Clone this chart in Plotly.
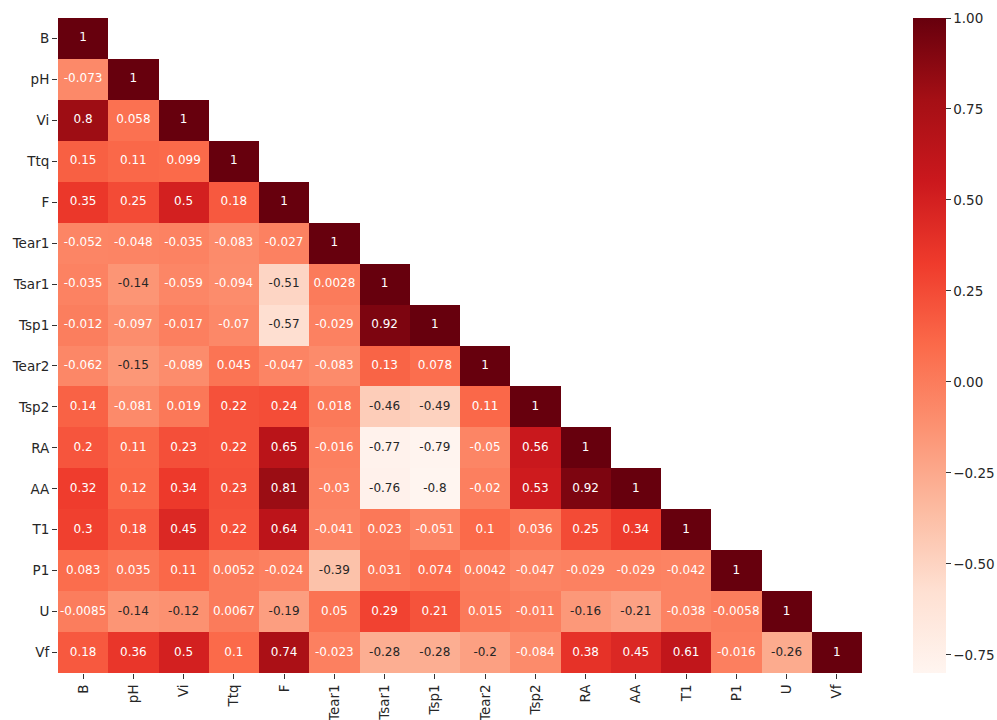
import numpy as np
import plotly.graph_objects as go

# Variable names (rows top-to-bottom, columns left-to-right)
variables = ["B", "pH", "Vi", "Ttq", "F", "Tear1", "Tsar1", "Tsp1",
             "Tear2", "Tsp2", "RA", "AA", "T1", "P1", "U", "Vf"]

# Lower-triangle correlation coefficients, one list per row
row_B = [1]
row_pH = [-0.073, 1]
row_Vi = [0.8, 0.058, 1]
row_Ttq = [0.15, 0.11, 0.099, 1]
row_F = [0.35, 0.25, 0.5, 0.18, 1]
row_Tear1 = [-0.052, -0.048, -0.035, -0.083, -0.027, 1]
row_Tsar1 = [-0.035, -0.14, -0.059, -0.094, -0.51, 0.0028, 1]
row_Tsp1 = [-0.012, -0.097, -0.017, -0.07, -0.57, -0.029, 0.92, 1]
row_Tear2 = [-0.062, -0.15, -0.089, 0.045, -0.047, -0.083, 0.13, 0.078, 1]
row_Tsp2 = [0.14, -0.081, 0.019, 0.22, 0.24, 0.018, -0.46, -0.49, 0.11, 1]
row_RA = [0.2, 0.11, 0.23, 0.22, 0.65, -0.016, -0.77, -0.79, -0.05, 0.56, 1]
row_AA = [0.32, 0.12, 0.34, 0.23, 0.81, -0.03, -0.76, -0.8, -0.02, 0.53, 0.92, 1]
row_T1 = [0.3, 0.18, 0.45, 0.22, 0.64, -0.041, 0.023, -0.051, 0.1, 0.036, 0.25, 0.34, 1]
row_P1 = [0.083, 0.035, 0.11, 0.0052, -0.024, -0.39, 0.031, 0.074, 0.0042,
          -0.047, -0.029, -0.029, -0.042, 1]
row_U = [-0.0085, -0.14, -0.12, 0.0067, -0.19, 0.05, 0.29, 0.21, 0.015,
         -0.011, -0.16, -0.21, -0.038, -0.0058, 1]
row_Vf = [0.18, 0.36, 0.5, 0.1, 0.74, -0.023, -0.28, -0.28, -0.2, -0.084,
          0.38, 0.45, 0.61, -0.016, -0.26, 1]

rows = [row_B, row_pH, row_Vi, row_Ttq, row_F, row_Tear1, row_Tsar1, row_Tsp1,
        row_Tear2, row_Tsp2, row_RA, row_AA, row_T1, row_P1, row_U, row_Vf]

colorbar_ticks = [-0.75, -0.5, -0.25, 0.0, 0.25, 0.5, 0.75, 1.0]

n = len(variables)
z = np.full((n, n), np.nan)
for i, r in enumerate(rows):
    z[i, :len(r)] = r

zmin = float(np.nanmin(z))
zmax = float(np.nanmax(z))

fig = go.Figure()
fig.add_trace(go.Heatmap(
    z=z, x=variables, y=variables,
    colorscale="Reds", zmin=zmin, zmax=zmax,
    hoverongaps=False,
    colorbar=dict(
        x=1.0634, xanchor="left", xpad=0,
        y=0.5, yanchor="middle", len=1.0, lenmode="fraction", ypad=0,
        thickness=33, outlinewidth=0,
        ticks="outside", ticklen=5, tickwidth=1, tickcolor="#333333",
        tickvals=colorbar_ticks,
        ticktext=[f"{t:.2f}".replace("-", "\u2212") for t in colorbar_ticks],
        tickfont=dict(family="DejaVu Sans", size=13.5, color="#262626"),
    ),
))

# Cell annotations: dark text on the pale cells, white elsewhere
xs, ys, texts, colors = [], [], [], []
for i, r in enumerate(rows):
    for j, v in enumerate(r):
        xs.append(variables[j])
        ys.append(variables[i])
        texts.append(format(v, ".2g"))
        colors.append("#262626" if v < -0.1 else "#ffffff")

fig.add_trace(go.Scatter(
    x=xs, y=ys, mode="text", text=texts,
    textfont=dict(family="DejaVu Sans", size=12, color=colors),
    hoverinfo="skip", showlegend=False,
))

axis_common = dict(
    ticks="outside", ticklen=5, tickwidth=1, tickcolor="#333333",
    showgrid=False, zeroline=False, showline=False,
    tickfont=dict(family="DejaVu Sans", size=13.5, color="#262626"),
)

fig.update_xaxes(**axis_common, tickangle=-90, range=[-0.5, n - 0.5])
fig.update_yaxes(**axis_common, range=[n - 0.5, -0.5])

fig.update_layout(
    width=997, height=720,
    margin=dict(l=58, r=135, t=18, b=47, autoexpand=False),
    paper_bgcolor="white", plot_bgcolor="white",
    font=dict(family="DejaVu Sans"),
)

fig.write_html("out.html")
